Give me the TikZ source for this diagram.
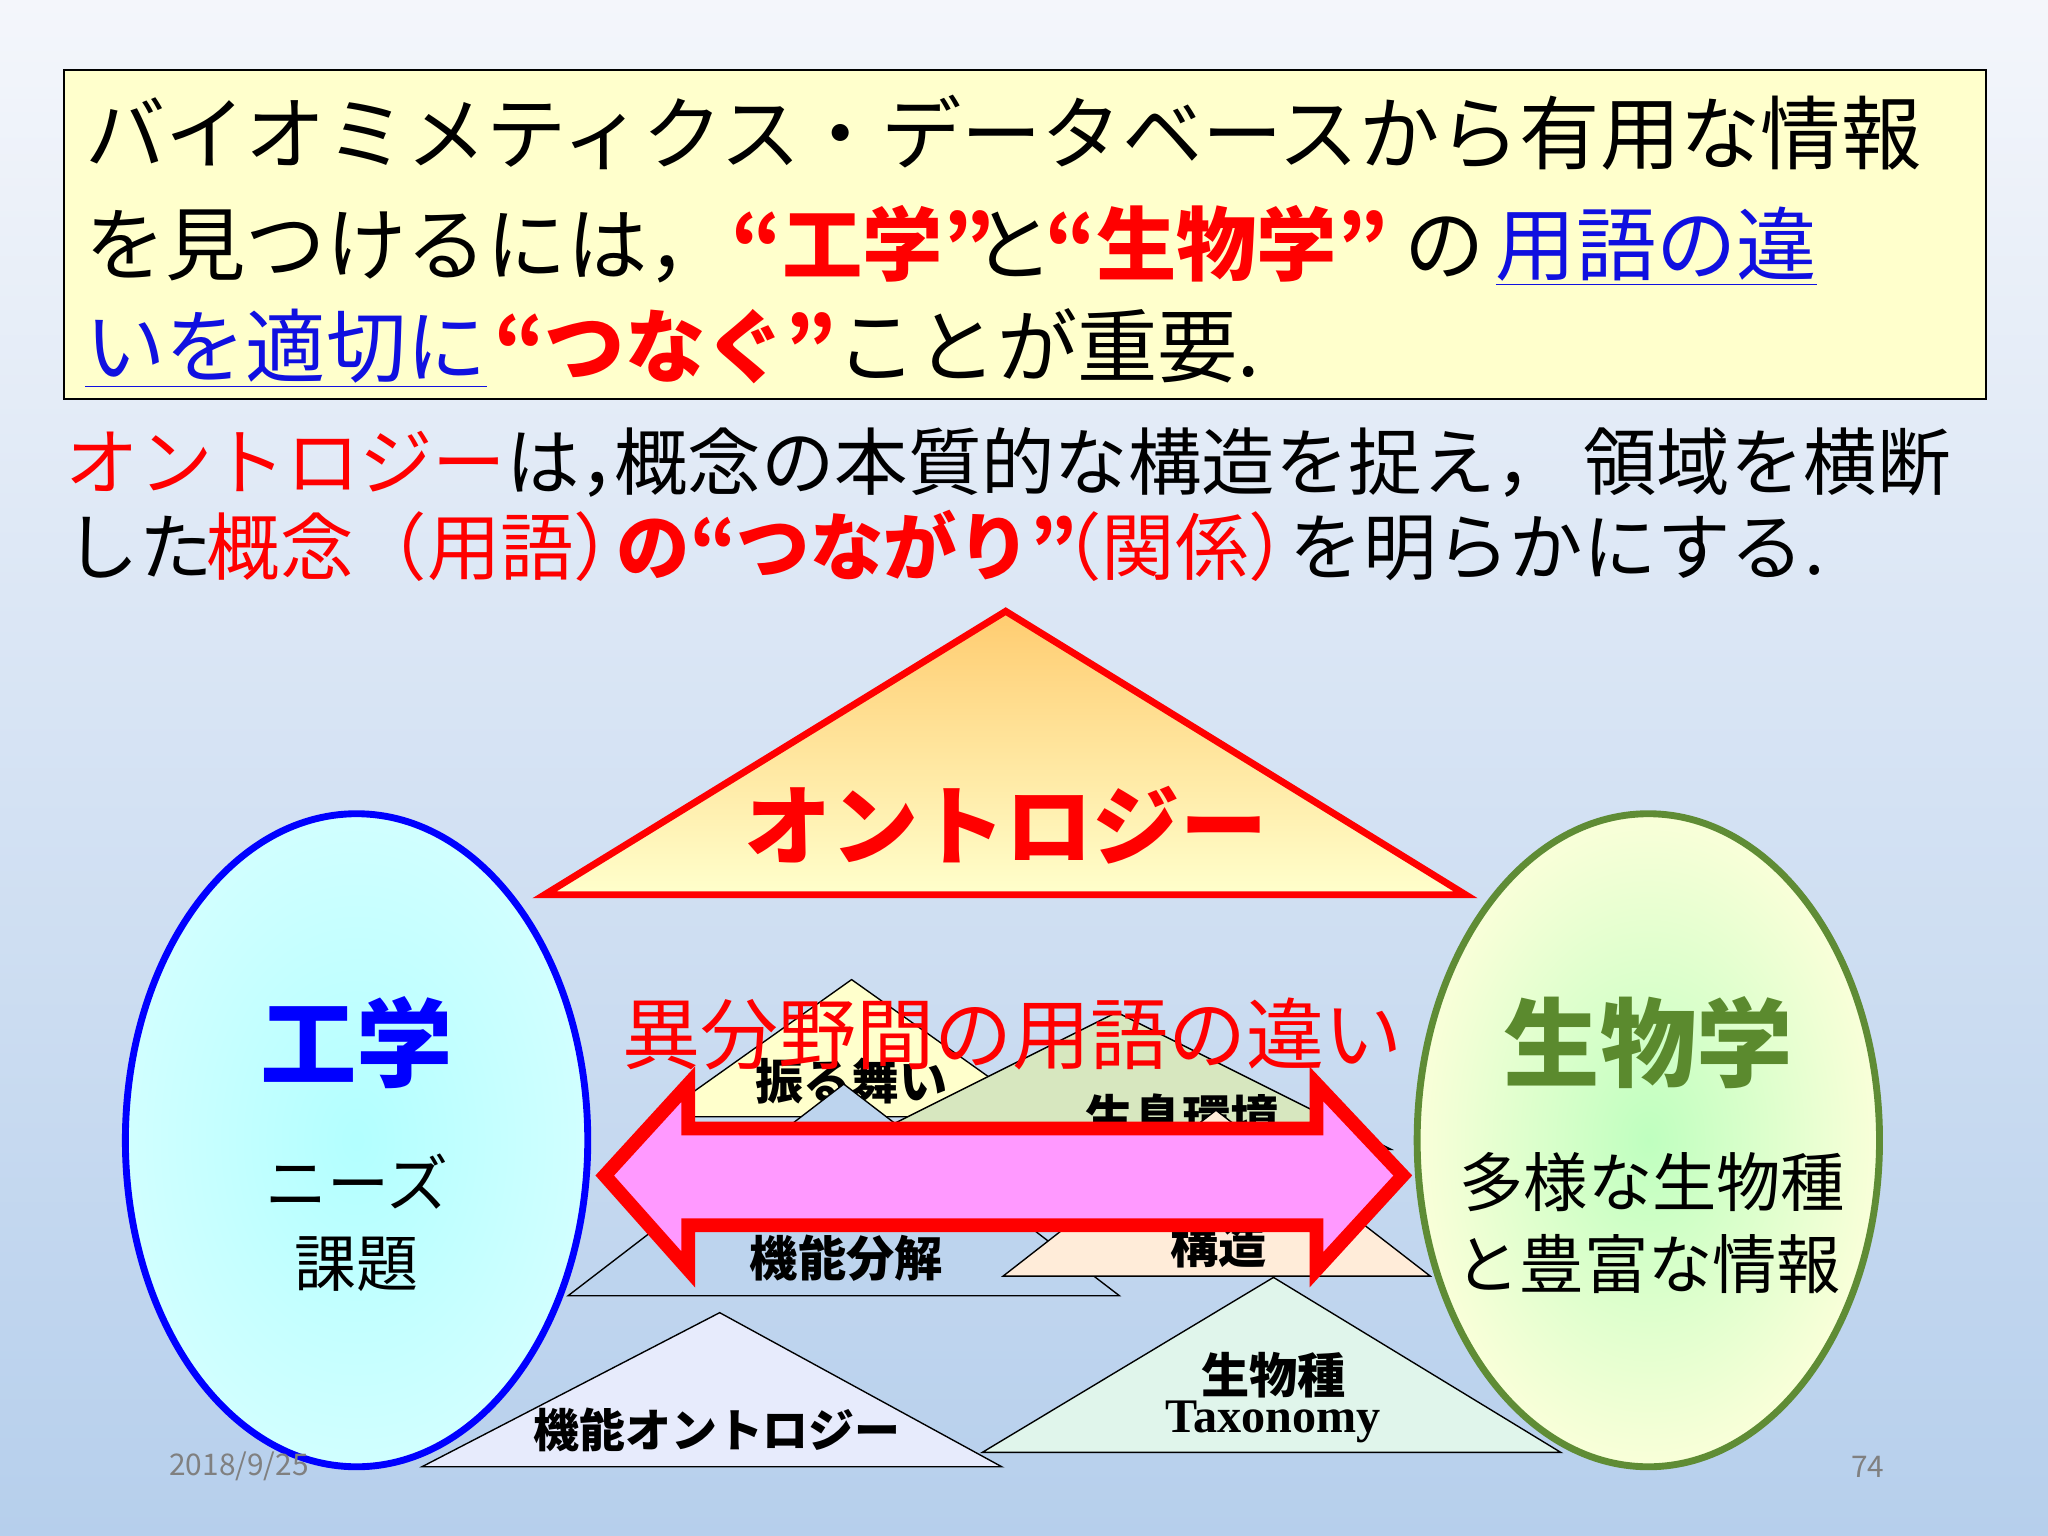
\documentclass[tikz,border=0pt]{standalone}
\usepackage{fontspec}
\setmainfont{Noto Sans CJK JP}
\newfontfamily\tmsfont{Liberation Serif}
\usetikzlibrary{shapes.geometric}
\definecolor{bgtop}{HTML}{F4F6FB}
\definecolor{bgbot}{HTML}{B6CFEC}
\definecolor{ttlfill}{HTML}{FFFFCC}
\definecolor{lnblue}{HTML}{1010E0}
\definecolor{bioGreen}{HTML}{5B8A2E}
\definecolor{ellGreen}{HTML}{5F8C35}
\definecolor{pinkA}{HTML}{FF99FF}
\definecolor{ontoTop}{HTML}{FFCC70}
\newcommand{\fs}[1]{\fontsize{#1}{#1}\selectfont}
\newcommand{\rb}[1]{\textcolor{red}{\bfseries #1}}
\newcommand{\bu}[1]{\textcolor{lnblue}{\underline{#1}}}
\begin{document}
\begin{tikzpicture}[x=0.02cm,y=-0.02cm,
  txt/.style={anchor=base west,inner sep=0pt},
  ttl/.style={txt,font=\fs{35pt}},
  par/.style={txt,font=\fs{32pt}},
  smalltri/.style={draw=black,line width=0.6pt},
  lbl/.style={font=\fs{21pt}\bfseries,inner sep=0pt}]
\useasboundingbox (0,0) rectangle (1568,1176);
\shade[top color=bgtop,bottom color=bgbot] (0,0) rectangle (1568,1176);
% title box
\node[draw=black,fill=ttlfill,line width=0.8pt,minimum width=1472*0.02cm,minimum height=252*0.02cm,anchor=north west,inner sep=0pt] (tbox) at (48,53) {};
\node[ttl] (t1) at (65,125) {バイオミメティクス・データベースから有用な情報};
\node[ttl] (t2a) at (65,210) {を見つけるには，};
\node[ttl] (t2b) at (560,210) {\rb{“工学”}};
\node[ttl] (t2c) at (745,210) {と};
\node[ttl] (t2d) at (800,210) {\rb{“生物学”}};
\node[ttl] (t2e) at (1075,210) {の};
\node[ttl] (t2f) at (1145,210) {\bu{用語の違}};
\node[ttl] (t3a) at (65,288) {\bu{いを適切に}};
\node[ttl] (t3b) at (378,288) {\rb{“つなぐ”}};
\node[ttl] (t3c) at (640,288) {ことが重要.};
% paragraph
\node[par] (p1a) at (50,375) {\textcolor{red}{オントロジー}は，};
\node[par] (p1b) at (470,375) {概念の本質的な構造を捉え，};
\node[par] (p1c) at (1212,375) {領域を横断};
\node[par] (p2a) at (50,440) {した};
\node[par] (p2b) at (158,440) {\textcolor{red}{概念（用語）}};
\node[par] (p2c) at (472,440) {\rb{の“つながり”}};
\node[par] (p2d) at (787,440) {\textcolor{red}{（関係）}};
\node[par] (p2e) at (987,440) {を明らかにする.};
% big triangle
\shade[top color=ontoTop,bottom color=ttlfill] (770,468) -- (1122,685) -- (417,685) -- cycle;
\draw[red,line width=3pt,line join=miter] (770,468) -- (1122,685) -- (417,685) -- cycle;
\node[font=\fs{38pt}\bfseries,text=red,inner sep=0pt] (onto) at (770,632) {オントロジー};
% ellipses
\node[ellipse,draw=blue,line width=3pt,inner color=cyan!30!white,outer color=cyan!18!white,minimum width=354*0.02cm,minimum height=500*0.02cm] (eng) at (273,873) {};
\node[ellipse,draw=ellGreen,line width=3pt,inner color=green!25!white,outer color=green!15!yellow!15!white,minimum width=354*0.02cm,minimum height=500*0.02cm] (bio) at (1262,873) {};
\node[font=\fs{42pt}\bfseries,text=blue,inner sep=0pt] (engT) at (273,798) {工学};
\node[font=\fs{27pt},inner sep=0pt] (engA) at (273,905) {ニーズ};
\node[font=\fs{27pt},inner sep=0pt] (engB) at (273,968) {課題};
\node[font=\fs{42pt}\bfseries,text=bioGreen,inner sep=0pt] (bioT) at (1262,798) {生物学};
\node[font=\fs{28pt},inner sep=0pt] (bioA) at (1265,905) {多様な生物種};
\node[font=\fs{28pt},inner sep=0pt] (bioB) at (1262,968) {と豊富な情報};
% small triangles
\draw[smalltri,fill=ttlfill] (652,750) -- (800,855) -- (504,855) -- cycle;
\draw[smalltri,fill=green!25!olive!25!white] (855,775) -- (1065,880) -- (645,880) -- cycle;
\node[lbl] (furu) at (652,828) {振る舞い};
\node[lbl] (seis) at (905,855) {生息環境};
\draw[smalltri,fill=bgbot!90!white] (646,830) -- (857,992) -- (435,992) -- cycle;
\draw[smalltri,fill=orange!15!white] (931,850) -- (1095,977) -- (768,977) -- cycle;
\node[lbl] (kinob) at (648,963) {機能分解};
\node[lbl] (kozo) at (933,953) {構造};
\draw[smalltri,fill=blue!6!white!85!bgbot] (551,1005) -- (767,1123) -- (323,1123) -- cycle;
\draw[smalltri,fill=green!8!white!80!bgbot] (975,978) -- (1195,1112) -- (752,1112) -- cycle;
\node[lbl,font=\fs{20pt}\bfseries] (kinoonto) at (549,1095) {機能オントロジー};
\node[lbl] (seib) at (975,1053) {生物種};
\node[inner sep=0pt,font=\tmsfont\fs{21pt}\bfseries] (taxo) at (975,1089) {Taxonomy};
% double arrow
\draw[red,line width=6pt,fill=pinkA,line join=miter]
 (463,900) -- (527,830) -- (527,864) -- (1008,864) -- (1008,830) -- (1074,900)
 -- (1008,972) -- (1008,938) -- (527,938) -- (527,972) -- cycle;
\node[font=\fs{34pt},text=red,inner sep=0pt] (diff) at (775,792) {異分野間の用語の違い};
% footer
\node[font=\fs{13pt},text=gray,inner sep=0pt] (date) at (183,1123) {2018/9/25};
\node[font=\fs{13pt},text=gray,inner sep=0pt] (pg) at (1430,1123) {74};
\end{tikzpicture}
\end{document}
